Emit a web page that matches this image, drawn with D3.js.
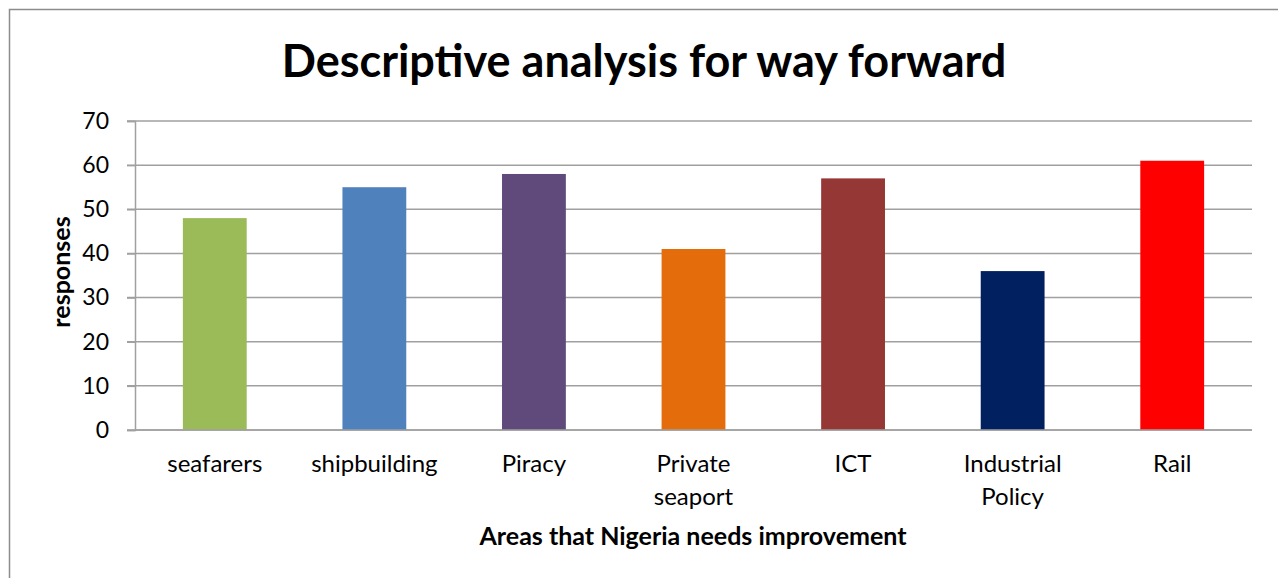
<!DOCTYPE html>
<html>
<head>
<meta charset="utf-8">
<script src="https://cdn.jsdelivr.net/npm/d3@7"></script>
<style>
  body { margin: 0; background: #fff; }
  svg { font-family: Lato, "Open Sans", sans-serif; }
</style>
</head>
<body>
<div id="container"></div>
<script>
/* CONSTANTS AND GLOBALS */
const width = 1278,
  height = 578,
  margin = { top: 121, right: 26, bottom: 148, left: 135 };

/* DATA */
const categories = ["seafarers", "shipbuilding", "Piracy", "Private seaport", "ICT", "Industrial Policy", "Rail"];
const responses = [48, 55, 58, 41, 57, 36, 61];
const barColors = ["#9bbb59", "#4f81bd", "#604a7b", "#e46c0a", "#953735", "#002060", "#ff0000"];
const yTicks = [0, 10, 20, 30, 40, 50, 60, 70];

const data = categories.map((c, i) => ({ category: c, value: responses[i], color: barColors[i] }));

const svg = d3.select("#container").append("svg")
  .attr("width", width)
  .attr("height", height);

// outer chart frame
svg.append("path")
  .attr("d", `M9.5,${height} V9.5 H${width}`)
  .attr("fill", "none")
  .attr("stroke", "#8c8c8c")
  .attr("stroke-width", 1.5);

const xScale = d3.scaleBand()
  .domain(categories)
  .range([margin.left, width - margin.right])
  .paddingInner(0.6)
  .paddingOuter(0.3);

const yScale = d3.scaleLinear()
  .domain([0, 70])
  .range([height - margin.bottom, margin.top]);

// gridlines
svg.append("g")
  .selectAll("line")
  .data(yTicks)
  .join("line")
  .attr("x1", margin.left - 8)
  .attr("x2", width - margin.right)
  .attr("y1", d => yScale(d))
  .attr("y2", d => yScale(d))
  .attr("stroke", "#a0a0a0")
  .attr("stroke-width", 1.5);

// y axis
const yAxis = d3.axisLeft(yScale).tickValues(yTicks).tickSize(8).tickPadding(18);
const yG = svg.append("g")
  .attr("transform", `translate(${margin.left},0)`)
  .call(yAxis);
yG.select(".domain").attr("stroke", "#a0a0a0").attr("stroke-width", 1.5);
yG.selectAll(".tick line").attr("stroke", "#a0a0a0").attr("stroke-width", 1.5);
yG.selectAll(".tick text").attr("font-size", 23).attr("fill", "#000").attr("font-family", "Lato, sans-serif");

// bars
svg.append("g")
  .selectAll("rect")
  .data(data)
  .join("rect")
  .attr("x", d => xScale(d.category))
  .attr("width", xScale.bandwidth())
  .attr("y", d => yScale(d.value))
  .attr("height", d => yScale(0) - yScale(d.value))
  .attr("fill", d => d.color);

// x axis line
svg.append("line")
  .attr("x1", margin.left)
  .attr("x2", width - margin.right)
  .attr("y1", yScale(0))
  .attr("y2", yScale(0))
  .attr("stroke", "#a0a0a0")
  .attr("stroke-width", 1.5);

// category labels (wrapped like the original)
const wrapped = {
  "Private seaport": ["Private", "seaport"],
  "Industrial Policy": ["Industrial", "Policy"]
};
const catG = svg.append("g")
  .selectAll("text")
  .data(categories)
  .join("text")
  .attr("x", d => xScale(d) + xScale.bandwidth() / 2)
  .attr("y", yScale(0) + 42)
  .attr("text-anchor", "middle")
  .attr("font-size", 24)
  .attr("fill", "#000");
catG.each(function(d) {
  const lines = wrapped[d] || [d];
  d3.select(this).selectAll("tspan")
    .data(lines)
    .join("tspan")
    .attr("x", xScale(d) + xScale.bandwidth() / 2)
    .attr("dy", (l, i) => i === 0 ? 0 : 33)
    .text(l => l);
});

// title
svg.append("text")
  .attr("x", 644)
  .attr("y", 77)
  .attr("text-anchor", "middle")
  .attr("font-size", 45)
  .attr("font-weight", "bold")
  .text("Descriptive analysis for way forward");

// axis titles
svg.append("text")
  .attr("x", 693)
  .attr("y", 545)
  .attr("text-anchor", "middle")
  .attr("font-size", 25)
  .attr("font-weight", "bold")
  .text("Areas that Nigeria needs improvement");

svg.append("text")
  .attr("transform", `translate(70,272) rotate(-90)`)
  .attr("text-anchor", "middle")
  .attr("font-size", 25)
  .attr("font-weight", "bold")
  .text("responses");
</script>
</body>
</html>
